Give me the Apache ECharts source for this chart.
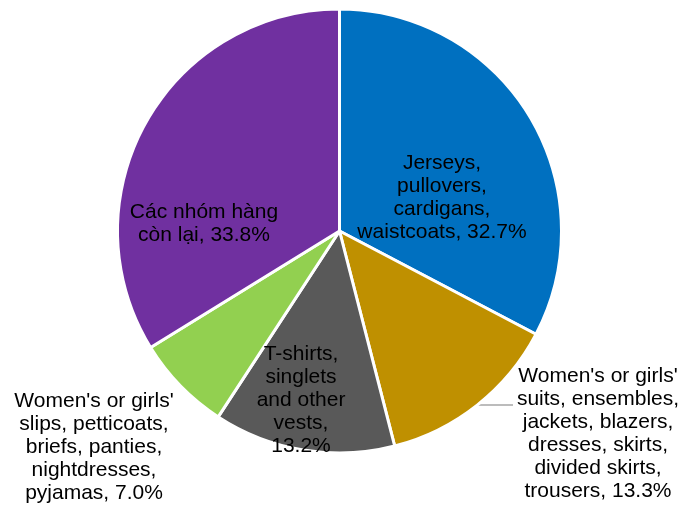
<!DOCTYPE html>
<html>
<head>
<meta charset="utf-8">
<script src="https://cdn.jsdelivr.net/npm/echarts@6/dist/echarts.min.js"></script>
<style>
  html, body { margin: 0; padding: 0; background: #fff; }
  #myChart { width: 682px; height: 510px; }
</style>
</head>
<body>
<div id="myChart"></div>
<script>
// nhóm hàng (tên đã ngắt dòng như hình)
var names = [
  "Jerseys,\npullovers,\ncardigans,\nwaistcoats, ",
  "Women's or girls'\nsuits, ensembles,\njackets, blazers,\ndresses, skirts,\ndivided skirts,\ntrousers, ",
  "T-shirts,\nsinglets\nand other\nvests,\n",
  "Women's or girls'\nslips, petticoats,\nbriefs, panties,\nnightdresses,\npyjamas, ",
  "Các nhóm hàng\ncòn lại, "
];
var values = [32.7, 13.3, 13.2, 7.0, 33.8];
var colors = ["#0070C0", "#BF9000", "#595959", "#92D050", "#7030A0"];
var outside = [false, true, false, false, false];

// vi tri nhan (tam khoi chu)
var labelPos = [[442, 198], [598, 434], [301, 400], [94, 447], [204, 224]];
var leaderEndX = 513;

var data = names.map(function (n, i) {
  return {
    name: n,
    value: values[i],
    itemStyle: { color: colors[i] },
    label: { position: outside[i] ? "outside" : "inside" },
    labelLine: { show: outside[i] }
  };
});

var myChart = echarts.init(document.getElementById("myChart"));
myChart.setOption({
  animation: false,
  series: [
    {
      type: "pie",
      center: [339.5, 231],
      radius: 222,
      startAngle: 90,
      clockwise: true,
      avoidLabelOverlap: false,
      itemStyle: { borderColor: "#fff", borderWidth: 3 },
      label: {
        color: "#000",
        fontFamily: "Liberation Sans, Arial, sans-serif",
        fontSize: 21,
        lineHeight: 23,
        align: "center",
        formatter: function (p) {
          return p.name + p.value.toFixed(1) + "%";
        }
      },
      labelLine: {
        length: 0,
        length2: 35,
        lineStyle: { color: "#A6A6A6", width: 1.5 }
      },
      labelLayout: function (params) {
        var p = labelPos[params.dataIndex];
        var res = { x: p[0], y: p[1], align: "center", verticalAlign: "middle" };
        var pts = params.labelLinePoints;
        if (pts && pts.length) {
          var s = pts[0];
          res.labelLinePoints = [[s[0], s[1]], [leaderEndX, s[1]], [leaderEndX, s[1]]];
        }
        return res;
      },
      data: data
    }
  ]
});
</script>
</body>
</html>
